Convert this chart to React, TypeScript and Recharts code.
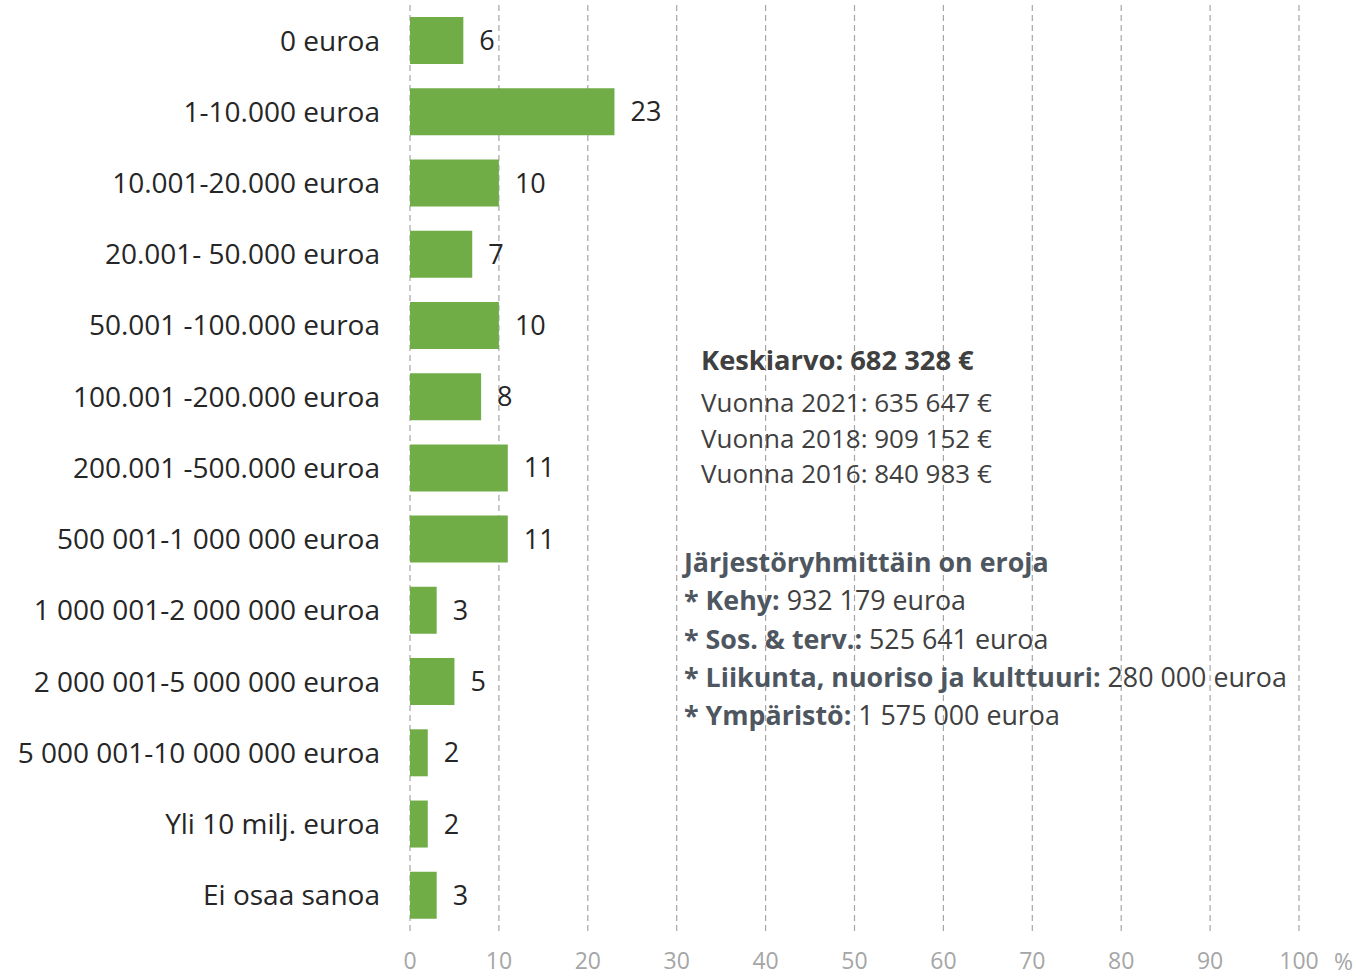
import React from "react";
import { BarChart, Bar, XAxis, YAxis, CartesianGrid, LabelList } from "recharts";

const categories = [
  "0 euroa",
  "1-10.000 euroa",
  "10.001-20.000 euroa",
  "20.001- 50.000 euroa",
  "50.001 -100.000 euroa",
  "100.001 -200.000 euroa",
  "200.001 -500.000 euroa",
  "500 001-1 000 000 euroa",
  "1 000 001-2 000 000 euroa",
  "2 000 001-5 000 000 euroa",
  "5 000 001-10 000 000 euroa",
  "Yli 10 milj. euroa",
  "Ei osaa sanoa",
];
const values = [6, 23, 10, 7, 10, 8, 11, 11, 3, 5, 2, 2, 3];
const xTicks = [0, 10, 20, 30, 40, 50, 60, 70, 80, 90, 100];

const data = categories.map((c, i) => ({ name: c, value: values[i] }));

const FONT = "'Open Sans', sans-serif";
const W = 1356;
const H = 977;

export default function App() {
  return (
    <div style={{ position: "absolute", left: 0, top: 0, width: W, height: H, fontFamily: FONT }}>
      <BarChart
        width={W}
        height={H}
        data={data}
        layout="vertical"
        margin={{ top: 5, right: 57, bottom: 0, left: 0 }}
        barSize={47}
      >
        <CartesianGrid horizontal={false} vertical stroke="#A6A6A6" strokeDasharray="6 4" strokeWidth={1.2} />
        <XAxis
          type="number"
          domain={[0, 100]}
          ticks={xTicks}
          interval={0}
          axisLine={false}
          tickLine={false}
          tickSize={0}
          tickMargin={22}
          height={46}
          tick={{ fill: "#A6A6A6", fontSize: 23, fontFamily: FONT }}
        />
        <YAxis
          type="category"
          dataKey="name"
          width={410}
          axisLine={false}
          tickLine={false}
          tickSize={0}
          tickMargin={30}
          interval={0}
          tick={{ fill: "#262626", fontSize: 28, fontFamily: FONT }}
        />
        <Bar dataKey="value" fill="#70AD47" isAnimationActive={false}>
          <LabelList dataKey="value" position="right" offset={16} fill="#262626" fontSize={27} fontFamily={FONT} />
        </Bar>
      </BarChart>
      <div style={{ position: "absolute", left: 1334, top: 946, fontSize: 23, color: "#A6A6A6", lineHeight: "30px" }}>%</div>
      <div style={{ position: "absolute", left: 701, top: 340, color: "#404040", whiteSpace: "nowrap" }}>
        <div style={{ fontWeight: 700, fontSize: 27.3, lineHeight: "40px" }}>Keskiarvo: 682 328 €</div>
        <div style={{ fontSize: 26, lineHeight: "35.5px", marginTop: 5 }}>Vuonna 2021: 635 647 €</div>
        <div style={{ fontSize: 26, lineHeight: "35.5px" }}>Vuonna 2018: 909 152 €</div>
        <div style={{ fontSize: 26, lineHeight: "35.5px" }}>Vuonna 2016: 840 983 €</div>
      </div>
      <div style={{ position: "absolute", left: 684, top: 543, color: "#404040", whiteSpace: "nowrap", fontSize: 26.8, lineHeight: "38.3px" }}>
        <div style={{ fontWeight: 700, color: "#4E5660" }}>Järjestöryhmittäin on eroja</div>
        <div><span style={{ fontWeight: 700, color: "#4E5660" }}>* Kehy:</span> 932 179 euroa</div>
        <div><span style={{ fontWeight: 700, color: "#4E5660" }}>* Sos. &amp; terv.:</span> 525 641 euroa</div>
        <div><span style={{ fontWeight: 700, color: "#4E5660" }}>* Liikunta, nuoriso ja kulttuuri:</span> 280 000 euroa</div>
        <div><span style={{ fontWeight: 700, color: "#4E5660" }}>* Ympäristö:</span> 1 575 000 euroa</div>
      </div>
    </div>
  );
}
